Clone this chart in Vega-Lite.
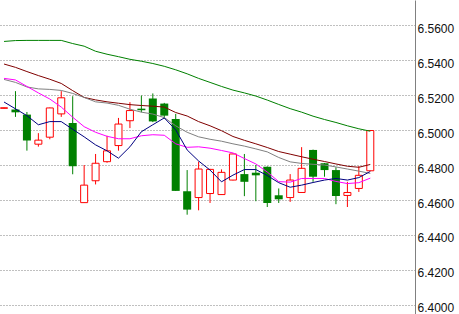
{
  "$schema": "https://vega.github.io/schema/vega-lite/v6.json",
  "width": 415,
  "height": 314,
  "autosize": "none",
  "padding": {"left": 0, "top": 0, "right": 44, "bottom": 0},
  "background": "#ffffff",
  "config": {
    "view": {"stroke": null},
    "axisY": {"orient": "right", "format": ".4f", "title": null,
      "grid": true, "gridColor": "#808080", "gridDash": [1, 2], "gridWidth": 1,
      "domain": true, "domainColor": "#808080", "domainWidth": 1,
      "ticks": false, "labelPadding": 2, "labelFont": "Liberation Sans", "labelFontSize": 12, "labelColor": "#101010",
      "labelBaseline": "middle", "labelOffset": 3, "labelAlign": "left", "labelOverlap": false, "labelBound": false, "labelFlush": false}
  },
  "data": {"values": [
    {"i":0,"o":6.5124,"h":6.5128,"l":6.5122,"c":6.5127,"ma60":6.5506,"ma30":6.5377,"ma20":6.5289,"ma10":6.5295,"ma5":6.5160},
    {"i":1,"o":6.5117,"h":6.5222,"l":6.5075,"c":6.5101,"ma60":6.5511,"ma30":6.5358,"ma20":6.5272,"ma10":6.5286,"ma5":6.5121},
    {"i":2,"o":6.5088,"h":6.5103,"l":6.4882,"c":6.4940,"ma60":6.5512,"ma30":6.5334,"ma20":6.5246,"ma10":6.5249,"ma5":6.5082},
    {"i":3,"o":6.4919,"h":6.4982,"l":6.4905,"c":6.4942,"ma60":6.5512,"ma30":6.5311,"ma20":6.5235,"ma10":6.5212,"ma5":6.5030},
    {"i":4,"o":6.4959,"h":6.5128,"l":6.4947,"c":6.5126,"ma60":6.5512,"ma30":6.5290,"ma20":6.5232,"ma10":6.5177,"ma5":6.5048},
    {"i":5,"o":6.5092,"h":6.5222,"l":6.5075,"c":6.5184,"ma60":6.5512,"ma30":6.5266,"ma20":6.5226,"ma10":6.5131,"ma5":6.5048},
    {"i":6,"o":6.5040,"h":6.5193,"l":6.4747,"c":6.4793,"ma60":6.5494,"ma30":6.5225,"ma20":6.5209,"ma10":6.5073,"ma5":6.5004},
    {"i":7,"o":6.4585,"h":6.4800,"l":6.4585,"c":6.4685,"ma60":6.5479,"ma30":6.5186,"ma20":6.5186,"ma10":6.5019,"ma5":6.4961},
    {"i":8,"o":6.4710,"h":6.4863,"l":6.4689,"c":6.4810,"ma60":6.5450,"ma30":6.5172,"ma20":6.5161,"ma10":6.4987,"ma5":6.4915},
    {"i":9,"o":6.4819,"h":6.4967,"l":6.4813,"c":6.4881,"ma60":6.5433,"ma30":6.5161,"ma20":6.5154,"ma10":6.4964,"ma5":6.4881},
    {"i":10,"o":6.4911,"h":6.5069,"l":6.4882,"c":6.5034,"ma60":6.5419,"ma30":6.5153,"ma20":6.5141,"ma10":6.4950,"ma5":6.4839},
    {"i":11,"o":6.5053,"h":6.5159,"l":6.5011,"c":6.5111,"ma60":6.5404,"ma30":6.5145,"ma20":6.5119,"ma10":6.4950,"ma5":6.4904},
    {"i":12,"o":6.5122,"h":6.5197,"l":6.5101,"c":6.5113,"ma60":6.5393,"ma30":6.5140,"ma20":6.5102,"ma10":6.4967,"ma5":6.4990},
    {"i":13,"o":6.5180,"h":6.5209,"l":6.5045,"c":6.5049,"ma60":6.5380,"ma30":6.5136,"ma20":6.5091,"ma10":6.4973,"ma5":6.5030},
    {"i":14,"o":6.5151,"h":6.5155,"l":6.5065,"c":6.5082,"ma60":6.5364,"ma30":6.5131,"ma20":6.5071,"ma10":6.4970,"ma5":6.5069},
    {"i":15,"o":6.5063,"h":6.5092,"l":6.4652,"c":6.4652,"ma60":6.5344,"ma30":6.5100,"ma20":6.5024,"ma10":6.4921,"ma5":6.5001},
    {"i":16,"o":6.4650,"h":6.4771,"l":6.4516,"c":6.4545,"ma60":6.5321,"ma30":6.5080,"ma20":6.4987,"ma10":6.4901,"ma5":6.4886},
    {"i":17,"o":6.4614,"h":6.4819,"l":6.4541,"c":6.4777,"ma60":6.5295,"ma30":6.5048,"ma20":6.4961,"ma10":6.4904,"ma5":6.4823},
    {"i":18,"o":6.4637,"h":6.4778,"l":6.4583,"c":6.4775,"ma60":6.5272,"ma30":6.5024,"ma20":6.4947,"ma10":6.4896,"ma5":6.4771},
    {"i":19,"o":6.4631,"h":6.4775,"l":6.4631,"c":6.4758,"ma60":6.5249,"ma30":6.4996,"ma20":6.4936,"ma10":6.4883,"ma5":6.4704},
    {"i":20,"o":6.4714,"h":6.4865,"l":6.4712,"c":6.4863,"ma60":6.5228,"ma30":6.4963,"ma20":6.4921,"ma10":6.4869,"ma5":6.4742},
    {"i":21,"o":6.4748,"h":6.4863,"l":6.4622,"c":6.4704,"ma60":6.5212,"ma30":6.4941,"ma20":6.4908,"ma10":6.4837,"ma5":6.4774},
    {"i":22,"o":6.4756,"h":6.4800,"l":6.4593,"c":6.4741,"ma60":6.5194,"ma30":6.4921,"ma20":6.4892,"ma10":6.4806,"ma5":6.4774},
    {"i":23,"o":6.4790,"h":6.4792,"l":6.4560,"c":6.4583,"ma60":6.5171,"ma30":6.4900,"ma20":6.4875,"ma10":6.4760,"ma5":6.4740},
    {"i":24,"o":6.4627,"h":6.4666,"l":6.4583,"c":6.4604,"ma60":6.5146,"ma30":6.4877,"ma20":6.4843,"ma10":6.4705,"ma5":6.4699},
    {"i":25,"o":6.4614,"h":6.4748,"l":6.4589,"c":6.4714,"ma60":6.5122,"ma30":6.4862,"ma20":6.4818,"ma10":6.4702,"ma5":6.4673},
    {"i":26,"o":6.4643,"h":6.4902,"l":6.4643,"c":6.4781,"ma60":6.5102,"ma30":6.4847,"ma20":6.4809,"ma10":6.4723,"ma5":6.4685},
    {"i":27,"o":6.4886,"h":6.4888,"l":6.4704,"c":6.4733,"ma60":6.5079,"ma30":6.4833,"ma20":6.4804,"ma10":6.4723,"ma5":6.4700},
    {"i":28,"o":6.4810,"h":6.4812,"l":6.4733,"c":6.4771,"ma60":6.5060,"ma30":6.4820,"ma20":6.4800,"ma10":6.4723,"ma5":6.4714},
    {"i":29,"o":6.4771,"h":6.4787,"l":6.4576,"c":6.4623,"ma60":6.5043,"ma30":6.4806,"ma20":6.4789,"ma10":6.4706,"ma5":6.4723},
    {"i":30,"o":6.4626,"h":6.4704,"l":6.4560,"c":6.4643,"ma60":6.5024,"ma30":6.4793,"ma20":6.4777,"ma10":6.4694,"ma5":6.4714},
    {"i":31,"o":6.4666,"h":6.4794,"l":6.4646,"c":6.4741,"ma60":6.5007,"ma30":6.4787,"ma20":6.4765,"ma10":6.4699,"ma5":6.4728},
    {"i":32,"o":6.4767,"h":6.5000,"l":6.4765,"c":6.4997,"ma60":6.4993,"ma30":6.4803,"ma20":6.4752,"ma10":6.4725,"ma5":6.4763}
  ]},
  "encoding": {
    "x": {"field": "i", "type": "quantitative", "scale": {"domain": [0.085, 35.47], "nice": false, "zero": false}, "axis": null}
  },
  "layer": [
    {
      "mark": {"type": "rule", "strokeWidth": 1, "clip": true},
      "encoding": {
        "y": {"field": "l", "type": "quantitative",
          "scale": {"domain": [6.394857, 6.574286], "nice": false, "zero": false},
          "axis": {"values": [6.40, 6.42, 6.44, 6.46, 6.48, 6.50, 6.52, 6.54, 6.56]}},
        "y2": {"field": "h"},
        "color": {"condition": {"test": "datum.c >= datum.o", "value": "#ff0000"}, "value": "#008000"}
      }
    },
    {
      "transform": [{"filter": "datum.c < datum.o"}],
      "mark": {"type": "bar", "size": 8, "fill": "#008000", "clip": true},
      "encoding": {
        "y": {"field": "o", "type": "quantitative", "axis": {"values": [6.40, 6.42, 6.44, 6.46, 6.48, 6.50, 6.52, 6.54, 6.56]}},
        "y2": {"field": "c"}
      }
    },
    {
      "transform": [{"filter": "datum.c >= datum.o"}],
      "mark": {"type": "bar", "size": 7, "fill": "#ffffff", "stroke": "#ff0000", "strokeWidth": 1, "clip": true},
      "encoding": {
        "y": {"field": "o", "type": "quantitative", "axis": {"values": [6.40, 6.42, 6.44, 6.46, 6.48, 6.50, 6.52, 6.54, 6.56]}},
        "y2": {"field": "c"}
      }
    },
    {"mark": {"type": "line", "color": "#008000", "strokeWidth": 1, "clip": true}, "encoding": {"y": {"field": "ma60", "type": "quantitative", "axis": {"values": [6.40, 6.42, 6.44, 6.46, 6.48, 6.50, 6.52, 6.54, 6.56]}}}},
    {"mark": {"type": "line", "color": "#800000", "strokeWidth": 1, "clip": true}, "encoding": {"y": {"field": "ma30", "type": "quantitative", "axis": {"values": [6.40, 6.42, 6.44, 6.46, 6.48, 6.50, 6.52, 6.54, 6.56]}}}},
    {"mark": {"type": "line", "color": "#808080", "strokeWidth": 1, "clip": true}, "encoding": {"y": {"field": "ma20", "type": "quantitative", "axis": {"values": [6.40, 6.42, 6.44, 6.46, 6.48, 6.50, 6.52, 6.54, 6.56]}}}},
    {"mark": {"type": "line", "color": "#ff00ff", "strokeWidth": 1, "clip": true}, "encoding": {"y": {"field": "ma10", "type": "quantitative", "axis": {"values": [6.40, 6.42, 6.44, 6.46, 6.48, 6.50, 6.52, 6.54, 6.56]}}}},
    {"mark": {"type": "line", "color": "#000080", "strokeWidth": 1, "clip": true}, "encoding": {"y": {"field": "ma5", "type": "quantitative", "axis": {"values": [6.40, 6.42, 6.44, 6.46, 6.48, 6.50, 6.52, 6.54, 6.56]}}}}
  ]
}
